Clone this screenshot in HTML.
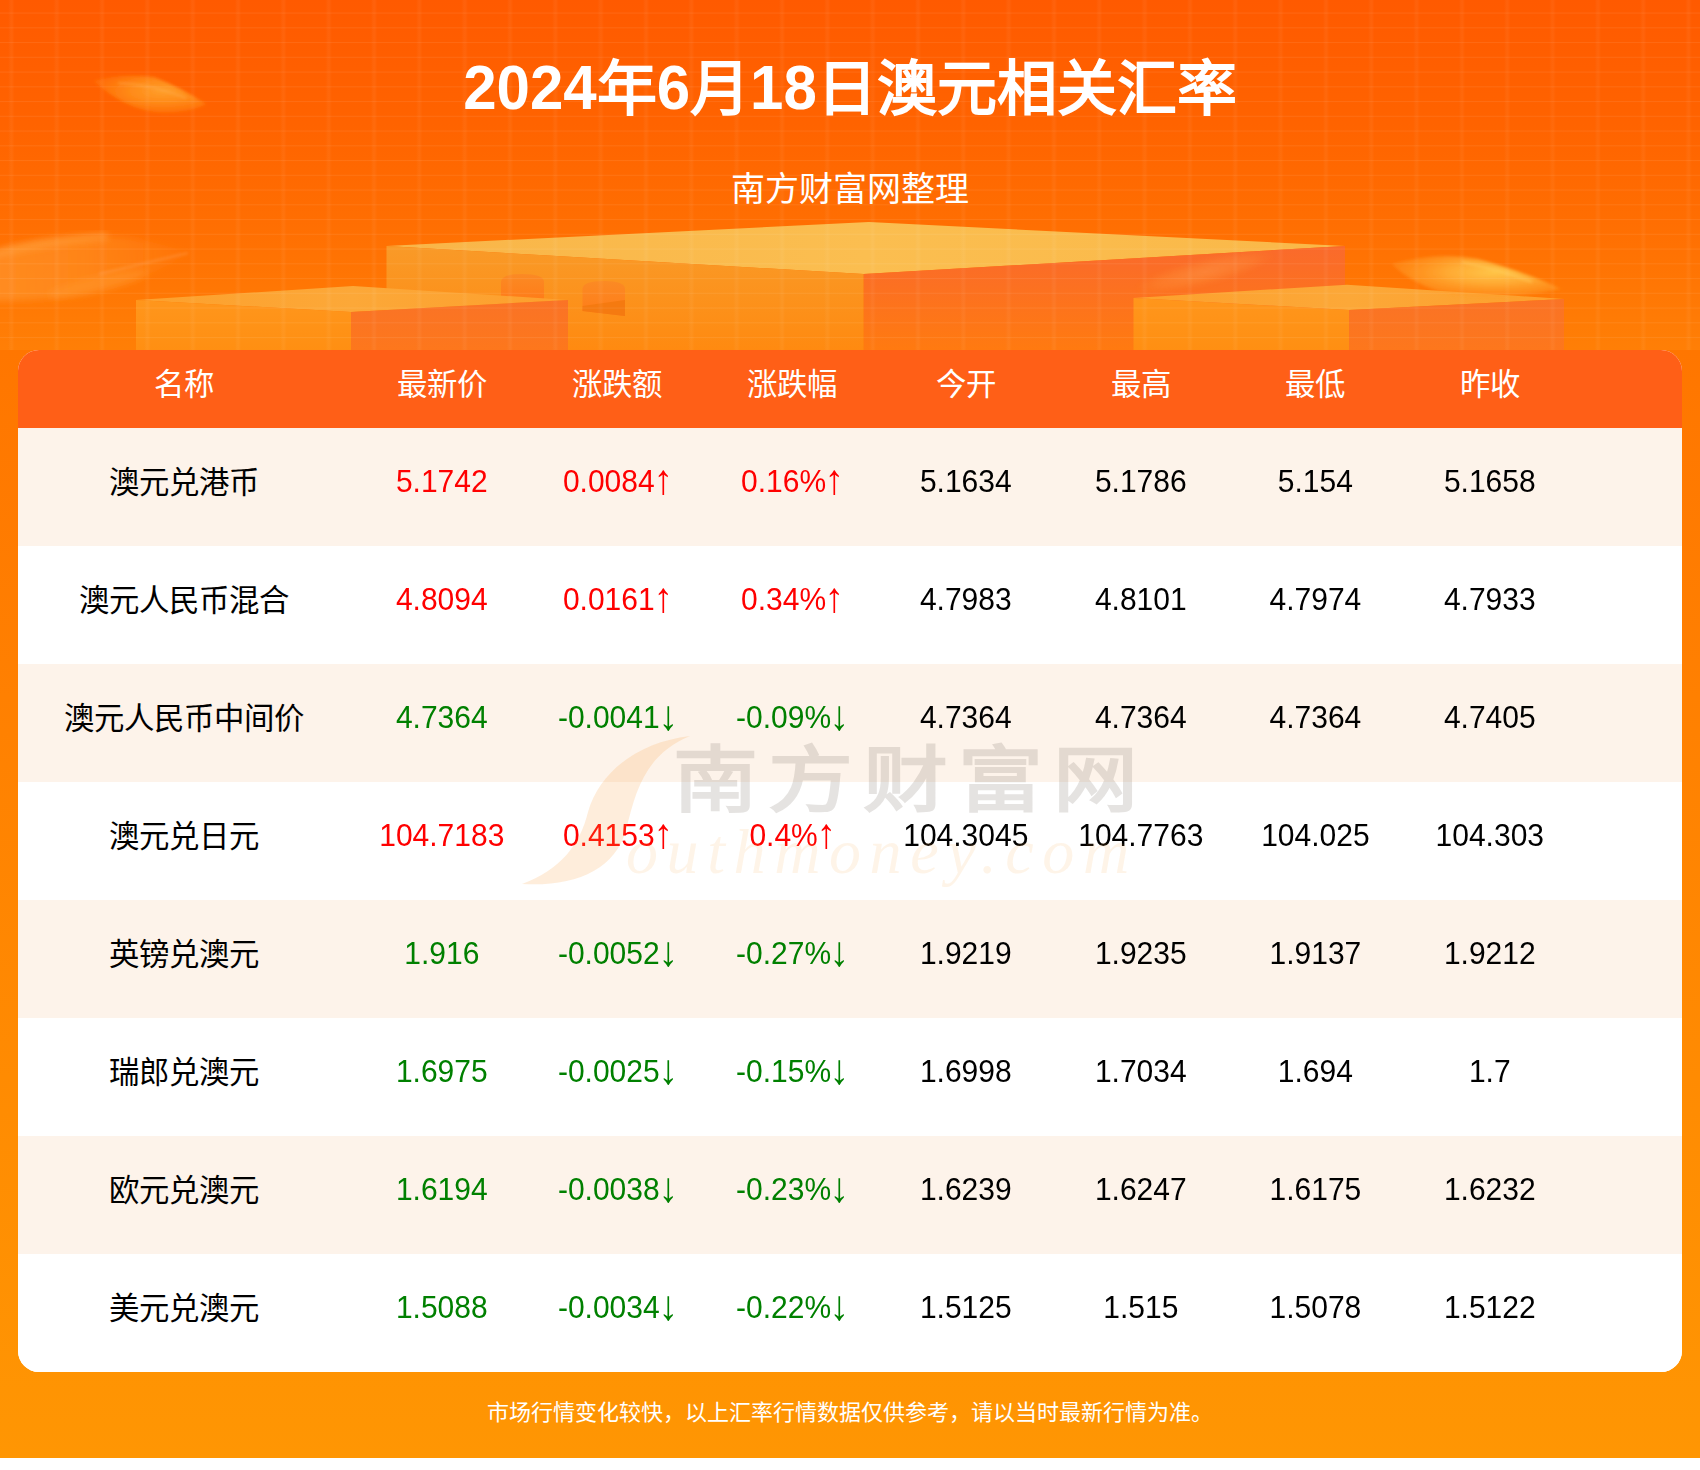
<!DOCTYPE html>
<html lang="zh-CN">
<head>
<meta charset="utf-8">
<title>2024年6月18日澳元相关汇率</title>
<style>
*{box-sizing:border-box;margin:0;padding:0}
html,body{width:1700px;height:1470px;background:#fff;overflow:hidden}
body{font-family:"Liberation Sans",sans-serif}
.page{position:absolute;left:0;top:0;width:1700px;height:1458px;overflow:hidden;
 background:linear-gradient(to bottom,#ff6c00 0px,#ff7600 350px,#ff9603 1458px)}
.deco{position:absolute;left:0;top:0;width:1700px;height:350px;background:linear-gradient(to bottom,#ff5a00 0px,#ff6300 123px,#ff6e02 221px,#ff7f06 350px)}
.title{position:absolute;left:0;top:55px;width:1700px;text-align:center;color:#fff;font-size:60px;line-height:70px;font-weight:bold;white-space:nowrap}
.title .d{display:inline-block;transform:translateY(-1px) scaleY(1.06);transform-origin:50% 54.8px}
.sub{position:absolute;left:0;top:168px;width:1700px;text-align:center;color:#fff;font-size:34px;line-height:42px;white-space:nowrap}
.card{position:absolute;left:18px;top:350px;width:1664px;height:1022px;border-radius:21px;overflow:hidden;background:#fff}
.thead{position:absolute;left:0;top:0;width:1664px;height:78px;background:#ff5f17;color:#fff;font-size:30.4px;line-height:69px}
.tr{position:absolute;left:0;width:1664px;height:118px;font-size:30px;line-height:108px;color:#000;background:#fff}
.tr.odd{background:#fdf3ea}
.c{position:absolute;top:0;width:300px;text-align:center;white-space:nowrap}
.tr .c{transform:scaleY(1.06);transform-origin:50% 64px}
.tr .c.n{transform:none;font-size:30.4px}
.a{display:inline-block;margin-left:1px;transform:translateY(2px) scale(1.3,1.32);transform-origin:50% 60%}
.r{color:#ff0000}
.g{color:#008000}
.foot{position:absolute;left:0;top:1398px;width:1700px;text-align:center;color:#fff;font-size:22px;line-height:30px;white-space:nowrap}
.wms{position:absolute;left:0;top:0;width:1664px;height:1022px;pointer-events:none}
.wmc{position:absolute;left:655px;top:385px;font-size:72px;line-height:90px;letter-spacing:8.5px;font-weight:bold;color:rgba(125,115,105,0.2);white-space:nowrap;pointer-events:none;transform:scaleX(1.18);transform-origin:0 50%}
.wme{position:absolute;left:608px;top:452px;font-family:"Liberation Serif",serif;font-style:italic;font-size:64px;line-height:100px;letter-spacing:8.6px;color:rgba(249,162,64,0.12);white-space:nowrap;pointer-events:none}
</style>
</head>
<body>
<div class="page">
<svg class="deco" width="1700" height="350" viewBox="0 0 1700 350">
<defs>
<linearGradient id="gL" x1="0" y1="0" x2="0" y2="1"><stop offset="0" stop-color="#f99a28"/><stop offset="1" stop-color="#ff8a10"/></linearGradient>
<linearGradient id="gR" x1="0" y1="0" x2="0" y2="1"><stop offset="0" stop-color="#fa6a2c"/><stop offset="1" stop-color="#ff7a10"/></linearGradient>
<linearGradient id="gT" x1="0" y1="0" x2="1" y2="0"><stop offset="0" stop-color="#f9b548"/><stop offset="0.5" stop-color="#fbbe50"/><stop offset="1" stop-color="#fab848"/></linearGradient>
<linearGradient id="sL" x1="0" y1="0" x2="0" y2="1"><stop offset="0" stop-color="#ff961c"/><stop offset="1" stop-color="#ff8f12"/></linearGradient>
<linearGradient id="sR" x1="0" y1="0" x2="0" y2="1"><stop offset="0" stop-color="#fa7326"/><stop offset="1" stop-color="#fd771c"/></linearGradient>
<linearGradient id="sT" x1="0" y1="0" x2="1" y2="0"><stop offset="0" stop-color="#fda02c"/><stop offset="0.5" stop-color="#fca838"/><stop offset="1" stop-color="#fd9f2c"/></linearGradient>
<linearGradient id="cy" x1="0" y1="0" x2="0" y2="1"><stop offset="0" stop-color="#fb8a24"/><stop offset="1" stop-color="#ff7c18"/></linearGradient>
<radialGradient id="st1"><stop offset="0" stop-color="#ffa845" stop-opacity="0.95"/><stop offset="0.6" stop-color="#ff9a38" stop-opacity="0.7"/><stop offset="1" stop-color="#ff9a30" stop-opacity="0"/></radialGradient>
<radialGradient id="st2"><stop offset="0" stop-color="#ffb060" stop-opacity="0.5"/><stop offset="0.7" stop-color="#ffa040" stop-opacity="0.3"/><stop offset="1" stop-color="#ff9a30" stop-opacity="0"/></radialGradient>
<radialGradient id="st4"><stop offset="0" stop-color="#ffc23c" stop-opacity="0.95"/><stop offset="0.55" stop-color="#ffac30" stop-opacity="0.6"/><stop offset="1" stop-color="#ff9a20" stop-opacity="0"/></radialGradient>
<radialGradient id="lf1" cx="0.62" cy="0.42" r="0.6"><stop offset="0" stop-color="#ffa22c" stop-opacity="0.95"/><stop offset="0.5" stop-color="#ff921c" stop-opacity="0.85"/><stop offset="1" stop-color="#ff8612" stop-opacity="0.4"/></radialGradient>
<radialGradient id="lf4" cx="0.6" cy="0.4" r="0.6"><stop offset="0" stop-color="#ffc548" stop-opacity="1"/><stop offset="0.45" stop-color="#ffb038" stop-opacity="0.9"/><stop offset="1" stop-color="#ff9a26" stop-opacity="0.4"/></radialGradient>
<linearGradient id="lf2" x1="0" y1="0" x2="1" y2="0"><stop offset="0" stop-color="#ff9a34" stop-opacity="0.62"/><stop offset="0.5" stop-color="#ff962c" stop-opacity="0.5"/><stop offset="1" stop-color="#ff9028" stop-opacity="0.05"/></linearGradient>
<filter id="b2" x="-10%" y="-30%" width="120%" height="160%"><feGaussianBlur stdDeviation="1.6"/></filter>
<filter id="b3" x="-10%" y="-30%" width="120%" height="160%"><feGaussianBlur stdDeviation="3"/></filter>
<filter id="bl" x="-20%" y="-50%" width="140%" height="200%"><feGaussianBlur stdDeviation="2.5"/></filter>
<linearGradient id="vgl" x1="0" y1="0" x2="1" y2="0"><stop offset="0" stop-color="#fff" stop-opacity="0"/><stop offset="0.35" stop-color="#fff" stop-opacity="0.042"/><stop offset="0.65" stop-color="#fff" stop-opacity="0.042"/><stop offset="1" stop-color="#fff" stop-opacity="0"/></linearGradient>
<pattern id="vg" x="8.33" y="0" width="45.33" height="350" patternUnits="userSpaceOnUse"><rect x="0" y="0" width="6" height="350" fill="url(#vgl)"/></pattern>
<pattern id="hg" x="0" y="12.55" width="1700" height="14.75" patternUnits="userSpaceOnUse"><rect x="0" y="0" width="1700" height="1" fill="#fff" fill-opacity="0.075"/></pattern>
</defs>
<!-- streaks behind boxes -->
<path d="M94,81 Q120,73 154,77 Q182,88 206,104 Q190,113 160,112.5 Q125,110 94,81 Z" fill="url(#lf1)" filter="url(#b2)"/>
<path d="M118,83 Q150,84 186,98" fill="none" stroke="#ffb860" stroke-opacity="0.5" stroke-width="1.5" filter="url(#b2)"/>
<path d="M-20,256 Q40,232 125,237 Q165,244 190,253 Q140,284 70,296 Q20,303 -20,300 Z" fill="url(#lf2)" filter="url(#b3)"/>
<path d="M99,274 L188,253" fill="none" stroke="#ffb47a" stroke-opacity="0.4" stroke-width="1.6" filter="url(#b2)"/>
<path d="M-5,254 Q40,242 108,236" fill="none" stroke="#ffa648" stroke-opacity="0.45" stroke-width="8" filter="url(#b3)"/>
<ellipse cx="98" cy="284" rx="52" ry="8" fill="#ff9a30" fill-opacity="0.4" filter="url(#b3)" transform="rotate(-13 98 284)"/>
<!-- central box -->
<polygon points="386.5,246 869,222 1345,246 863.7,274" fill="url(#gT)"/>
<polygon points="386.5,246 863.7,274 863.7,350 386.5,350" fill="url(#gL)"/>
<polygon points="863.7,274 1345,246 1345,350 863.7,350" fill="url(#gR)"/>
<!-- notches -->
<path d="M501,282 Q501,274 522,274 Q544,274 544,282 L544,300 L501,300 Z" fill="url(#cy)"/>
<path d="M582.5,289 Q582.5,281 604,281 Q625,281 625,289 L625,316 L582.5,311 Z" fill="url(#cy)"/>
<polygon points="582.5,306 625,300 625,316 582.5,311" fill="#f57a10"/>
<!-- streak on central right face -->
<ellipse cx="1205" cy="272" rx="72" ry="13" fill="url(#st2)" filter="url(#bl)" transform="rotate(-14 1205 272)" opacity="0.7"/>
<!-- left small box -->
<polygon points="136,300 353,286 568,300 351,312" fill="url(#sT)"/>
<polygon points="136,300 351,312 351,350 136,350" fill="url(#sL)"/>
<polygon points="351,312 568,300 568,350 351,350" fill="url(#sR)"/>
<!-- right small box -->
<polygon points="1133.5,298 1347,284.7 1564,299 1349,310" fill="url(#sT)"/>
<polygon points="1133.5,298 1349,310 1349,350 1133.5,350" fill="url(#sL)"/>
<polygon points="1349,310 1564,299 1564,350 1349,350" fill="url(#sR)"/>
<!-- streak in front of right box -->
<path d="M1392,264 Q1438,251 1478,259 Q1528,273 1561,289 Q1505,301 1452,295 Q1412,285 1392,264 Z" fill="url(#lf4)" filter="url(#b2)"/>
<path d="M1462,262 Q1500,270 1532,282" fill="none" stroke="#ffd668" stroke-opacity="0.6" stroke-width="1.6" filter="url(#b2)"/>
<!-- grid -->
<rect x="0" y="0" width="1700" height="350" fill="url(#vg)"/>
<rect x="0" y="0" width="1700" height="350" fill="url(#hg)"/>
</svg>
<h1 class="title"><span class="d">2024</span>年<span class="d">6</span>月<span class="d">18</span>日澳元相关汇率</h1>
<div class="sub">南方财富网整理</div>
<div class="card">
<div class="thead">
<div class="c" style="left:15.5px">名称</div>
<div class="c" style="left:273.8px">最新价</div>
<div class="c" style="left:448.8px">涨跌额</div>
<div class="c" style="left:623.6px">涨跌幅</div>
<div class="c" style="left:797.8px">今开</div>
<div class="c" style="left:972.8px">最高</div>
<div class="c" style="left:1147.4px">最低</div>
<div class="c" style="left:1321.8px">昨收</div>
</div>
<div class="tr odd" style="top:78px">
<div class="c n" style="left:15.5px">澳元兑港币</div>
<div class="c r" style="left:273.8px">5.1742</div>
<div class="c r" style="left:448.8px">0.0084<span class="a">↑</span></div>
<div class="c r" style="left:623.6px">0.16%<span class="a">↑</span></div>
<div class="c" style="left:797.8px">5.1634</div>
<div class="c" style="left:972.8px">5.1786</div>
<div class="c" style="left:1147.4px">5.154</div>
<div class="c" style="left:1321.8px">5.1658</div>
</div>
<div class="tr" style="top:196px">
<div class="c n" style="left:15.5px">澳元人民币混合</div>
<div class="c r" style="left:273.8px">4.8094</div>
<div class="c r" style="left:448.8px">0.0161<span class="a">↑</span></div>
<div class="c r" style="left:623.6px">0.34%<span class="a">↑</span></div>
<div class="c" style="left:797.8px">4.7983</div>
<div class="c" style="left:972.8px">4.8101</div>
<div class="c" style="left:1147.4px">4.7974</div>
<div class="c" style="left:1321.8px">4.7933</div>
</div>
<div class="tr odd" style="top:314px">
<div class="c n" style="left:15.5px">澳元人民币中间价</div>
<div class="c g" style="left:273.8px">4.7364</div>
<div class="c g" style="left:448.8px">-0.0041<span class="a">↓</span></div>
<div class="c g" style="left:623.6px">-0.09%<span class="a">↓</span></div>
<div class="c" style="left:797.8px">4.7364</div>
<div class="c" style="left:972.8px">4.7364</div>
<div class="c" style="left:1147.4px">4.7364</div>
<div class="c" style="left:1321.8px">4.7405</div>
</div>
<div class="tr" style="top:432px">
<div class="c n" style="left:15.5px">澳元兑日元</div>
<div class="c r" style="left:273.8px">104.7183</div>
<div class="c r" style="left:448.8px">0.4153<span class="a">↑</span></div>
<div class="c r" style="left:623.6px">0.4%<span class="a">↑</span></div>
<div class="c" style="left:797.8px">104.3045</div>
<div class="c" style="left:972.8px">104.7763</div>
<div class="c" style="left:1147.4px">104.025</div>
<div class="c" style="left:1321.8px">104.303</div>
</div>
<div class="tr odd" style="top:550px">
<div class="c n" style="left:15.5px">英镑兑澳元</div>
<div class="c g" style="left:273.8px">1.916</div>
<div class="c g" style="left:448.8px">-0.0052<span class="a">↓</span></div>
<div class="c g" style="left:623.6px">-0.27%<span class="a">↓</span></div>
<div class="c" style="left:797.8px">1.9219</div>
<div class="c" style="left:972.8px">1.9235</div>
<div class="c" style="left:1147.4px">1.9137</div>
<div class="c" style="left:1321.8px">1.9212</div>
</div>
<div class="tr" style="top:668px">
<div class="c n" style="left:15.5px">瑞郎兑澳元</div>
<div class="c g" style="left:273.8px">1.6975</div>
<div class="c g" style="left:448.8px">-0.0025<span class="a">↓</span></div>
<div class="c g" style="left:623.6px">-0.15%<span class="a">↓</span></div>
<div class="c" style="left:797.8px">1.6998</div>
<div class="c" style="left:972.8px">1.7034</div>
<div class="c" style="left:1147.4px">1.694</div>
<div class="c" style="left:1321.8px">1.7</div>
</div>
<div class="tr odd" style="top:786px">
<div class="c n" style="left:15.5px">欧元兑澳元</div>
<div class="c g" style="left:273.8px">1.6194</div>
<div class="c g" style="left:448.8px">-0.0038<span class="a">↓</span></div>
<div class="c g" style="left:623.6px">-0.23%<span class="a">↓</span></div>
<div class="c" style="left:797.8px">1.6239</div>
<div class="c" style="left:972.8px">1.6247</div>
<div class="c" style="left:1147.4px">1.6175</div>
<div class="c" style="left:1321.8px">1.6232</div>
</div>
<div class="tr" style="top:904px">
<div class="c n" style="left:15.5px">美元兑澳元</div>
<div class="c g" style="left:273.8px">1.5088</div>
<div class="c g" style="left:448.8px">-0.0034<span class="a">↓</span></div>
<div class="c g" style="left:623.6px">-0.22%<span class="a">↓</span></div>
<div class="c" style="left:797.8px">1.5125</div>
<div class="c" style="left:972.8px">1.515</div>
<div class="c" style="left:1147.4px">1.5078</div>
<div class="c" style="left:1321.8px">1.5122</div>
</div>
<svg class="wms" width="1664" height="1022" viewBox="18 350 1664 1022">
<path d="M690,736 C640,742 600,770 588,812 C580,845 560,870 522,884 C575,887 615,870 626,830 C636,790 645,755 690,736 Z" fill="#f9a240" fill-opacity="0.19"/>
</svg>
<div class="wmc">南方财富网</div>
<div class="wme">outhmoney.com</div>
</div>
<div class="foot">市场行情变化较快，以上汇率行情数据仅供参考，请以当时最新行情为准。</div>
</div>
</body>
</html>
